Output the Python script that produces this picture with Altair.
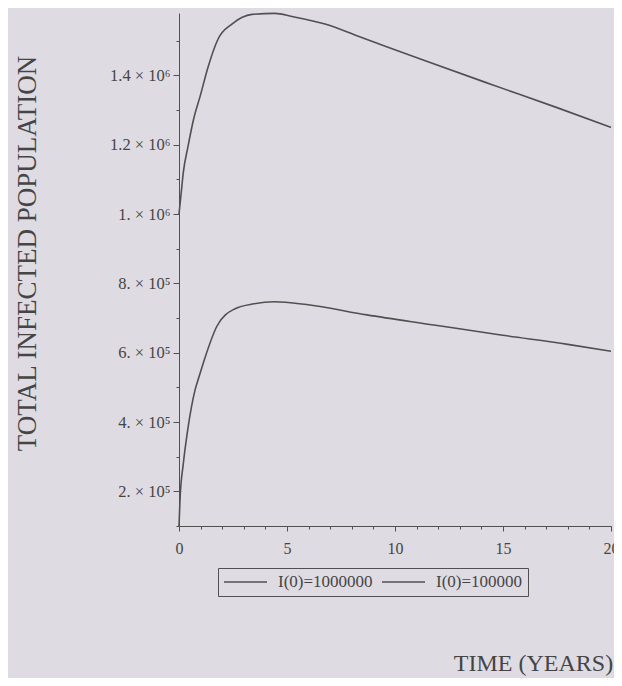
import altair as alt
import pandas as pd
import json

# ---- data ----
SERIES = ["I(0)=1000000", "I(0)=100000"]

t_high = [0, 0.1, 0.2, 0.42, 0.7, 0.97, 1.34, 1.81, 2.45, 3.38, 4.44, 5.23, 6.76, 8.3, 11.4, 14.5, 17.5, 20]
v_high = [1.0e6, 1.06e6, 1.12e6, 1.196e6, 1.28e6, 1.338e6, 1.423e6, 1.505e6, 1.548e6, 1.576e6,
          1.579e6, 1.570e6, 1.548e6, 1.513e6, 1.442e6, 1.373e6, 1.307e6, 1.25e6]

t_low = [0, 0.05, 0.2, 0.4, 0.75, 0.93, 1.2, 1.76, 2.6, 3.47, 4.4, 5.9, 8.7, 11.8, 14.9, 18.0, 20]
v_low = [1.0e5, 1.8e5, 2.8e5, 3.76e5, 4.94e5, 5.31e5, 5.85e5, 6.77e5, 7.27e5, 7.41e5, 7.47e5,
         7.39e5, 7.09e5, 6.8e5, 6.51e5, 6.24e5, 6.04e5]

Y_TICKS = [200000, 400000, 600000, 800000, 1000000, 1200000, 1400000]
Y_LABELS = ["2. × 10⁵", "4. × 10⁵", "6. × 10⁵", "8. × 10⁵", "1. × 10⁶", "1.2 × 10⁶", "1.4 × 10⁶"]
Y_MINOR = [100000, 300000, 500000, 700000, 900000, 1100000, 1300000, 1500000]
X_TICKS = [0, 5, 10, 15, 20]
X_MINOR = list(range(0, 21))

df = pd.concat([
    pd.DataFrame({"t": t_high, "v": v_high, "series": SERIES[0]}),
    pd.DataFrame({"t": t_low, "v": v_low, "series": SERIES[1]}),
])

SERIF = "Liberation Serif"
INK = "#454545"
LINE = "#505050"

ylabel_expr = "{}[indexof({}, datum.value)]".format(json.dumps(Y_LABELS, ensure_ascii=False), json.dumps(Y_TICKS))

xs = alt.Scale(domain=[0, 20], nice=False, zero=False)
ys = alt.Scale(domain=[100000, 1580000], nice=False, zero=False)

main = alt.Chart(df).mark_line(strokeWidth=1.6, interpolate="monotone").encode(
    x=alt.X("t:Q", scale=xs, axis=alt.Axis(
        values=X_TICKS, orient="bottom", grid=False, domainColor=LINE, tickColor=LINE,
        tickSize=5, labelFont=SERIF, labelFontSize=16, labelColor=INK, labelPadding=9,
        labelFlush=False,
        title="TIME (YEARS)", titleFont=SERIF, titleFontSize=24, titleFontWeight="normal",
        titleColor=INK, titleX=354, titleY=144, titleAlign="center", titleBaseline="alphabetic")),
    y=alt.Y("v:Q", scale=ys, axis=alt.Axis(
        values=Y_TICKS, orient="left", grid=False, domainColor=LINE, tickColor=LINE,
        tickSize=6, labelFont=SERIF, labelFontSize=16.5, labelColor=INK, labelPadding=3,
        labelExpr=ylabel_expr, labelFlush=False,
        title="TOTAL INFECTED POPULATION", titleFont=SERIF, titleFontSize=27,
        titleFontWeight="normal", titleColor=INK, titleAngle=270, titleX=-152, titleY=240,
        titleAlign="center", titleBaseline="middle")),
    color=alt.Color("series:N", title=None,
                    scale=alt.Scale(domain=SERIES, range=[LINE, LINE]),
                    legend=alt.Legend(orient="none", legendX=39, legendY=555, direction="horizontal",
                                      symbolType="stroke", symbolSize=1849, symbolStrokeWidth=1.6,
                                      clipHeight=18,
                                      labelFont=SERIF, labelFontSize=17, labelColor=INK,
                                      labelOffset=10, columnPadding=8, padding=5,
                                      strokeColor=LINE, cornerRadius=0)),
)

minor = alt.Chart(df).mark_line(opacity=0).encode(
    x=alt.X("t:Q", scale=xs, axis=alt.Axis(values=X_MINOR, orient="bottom", labels=False,
                                           domain=False, grid=False, tickColor=LINE, tickSize=3, title="")),
    y=alt.Y("v:Q", scale=ys, axis=alt.Axis(values=Y_MINOR, orient="left", labels=False,
                                           domain=False, grid=False, tickColor=LINE, tickSize=3, title="")),
    detail="series:N",
)

chart = alt.layer(main, minor).resolve_axis(x="independent", y="independent").properties(
    width=432, height=513,
    autosize=alt.AutoSizeParams(type="none"),
    padding={"left": 171, "top": 5, "right": 3, "bottom": 152},
    background="#dedbe3",
).configure_view(stroke=None)

chart.save("out.html", embed_options={"renderer": "svg", "actions": False})
